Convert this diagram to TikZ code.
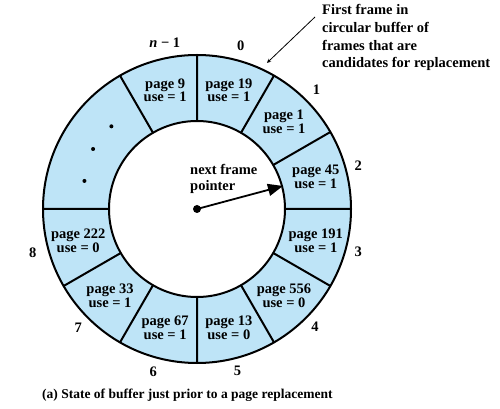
\documentclass[tikz,border=0pt]{standalone}
\usepackage{fontspec}
\setmainfont{Liberation Serif}
\usepackage{tikz}
\usetikzlibrary{arrows.meta,positioning}
\definecolor{bufblue}{RGB}{190,228,247}

\begin{document}
\begin{tikzpicture}[
    cell/.style={font=\fontsize{14.5}{11.7}\selectfont\bfseries, align=center, inner sep=0pt},
    slot/.style={font=\fontsize{14.5}{14.5}\selectfont\bfseries, inner sep=0pt},
    note/.style={font=\fontsize{14.5}{17.8}\selectfont\bfseries, align=left, inner sep=0pt},
    ring/.style={line width=2pt},
    arrow/.style={->,>=stealth,line width=0.8pt},
    ptrarrow/.style={-{Triangle[length=15pt,width=12pt]},line width=1.8pt}
]
\useasboundingbox (-197pt,-200pt) rectangle (303pt,209pt);

% Buffer ring
\fill[bufblue, even odd rule] (0,0) circle (154pt) (0,0) circle (88pt);
\draw[ring] (0,0) circle (154pt);
\draw[ring] (0,0) circle (88pt);
\draw[ring] (90:88pt) -- (90:154pt) (60:88pt) -- (60:154pt)
    (30:88pt) -- (30:154pt) (0:88pt) -- (0:154pt)
    (-30:88pt) -- (-30:154pt) (-60:88pt) -- (-60:154pt)
    (-90:88pt) -- (-90:154pt) (-120:88pt) -- (-120:154pt)
    (-150:88pt) -- (-150:154pt) (180:88pt) -- (180:154pt)
    (120:88pt) -- (120:154pt);

% Frames
\node[cell] (p9) at (105:123pt) {page 9\\use = 1};
\node[cell] (p19) at (75:123pt) {page 19\\use = 1};
\node[cell] (p1) at (45:123pt) {page 1\\use = 1};
\node[cell] (p45) at (15:123pt) {page 45\\use = 1};
\node[cell] (p191) at (-15:123pt) {page 191\\use = 1};
\node[cell] (p556) at (-45:123pt) {page 556\\use = 0};
\node[cell] (p13) at (-75:123pt) {page 13\\use = 0};
\node[cell] (p67) at (-105:123pt) {page 67\\use = 1};
\node[cell] (p33) at (-135:123pt) {page 33\\use = 1};
\node[cell] (p222) at (-165:123pt) {page 222\\use = 0};

% Elided frames
\fill (136:119pt) circle (2pt);
\fill (150:120pt) circle (2pt);
\fill (166:116pt) circle (2pt);

% Frame numbers
\node[slot] (sn) at (101:169pt) {\textit{n} − 1};
\node[slot] (s0) at (75:169pt) {0};
\node[slot] (s1) at (45:169pt) {1};
\node[slot] (s2) at (15:167pt) {2};
\node[slot] (s3) at (-15:167pt) {3};
\node[slot] (s4) at (-45:167pt) {4};
\node[slot] (s5) at (-76:167pt) {5};
\node[slot] (s6) at (-105:169pt) {6};
\node[slot] (s7) at (-135:168pt) {7};
\node[slot] (s8) at (-165:170pt) {8};

% Next frame pointer
\node[circle, fill, inner sep=0pt, minimum size=8pt] (ptr) at (0,0) {};
\coordinate (ptrtip) at (15:89pt);
\draw[ptrarrow] (ptr.center) -- (ptrtip);
\node[note, font=\fontsize{14.5}{16}\selectfont\bfseries, anchor=north west] (nfp) at (-7pt,45pt) {next frame\\pointer};

% First frame annotation
\node[note, anchor=north west] (first) at (125pt,205pt) {First frame in\\circular buffer of\\frames that are\\candidates for replacement};
\coordinate (firsttip) at (64.4:162pt);
\draw[arrow] ([shift={(-7pt,-13pt)}]first.north west) -- (firsttip);

% Caption
\node[font=\fontsize{13.5}{14}\selectfont\bfseries, anchor=base west, inner sep=0pt] (caption) at (-155pt,-189pt) {(a) State of buffer just prior to a page replacement};
\end{tikzpicture}
\end{document}
